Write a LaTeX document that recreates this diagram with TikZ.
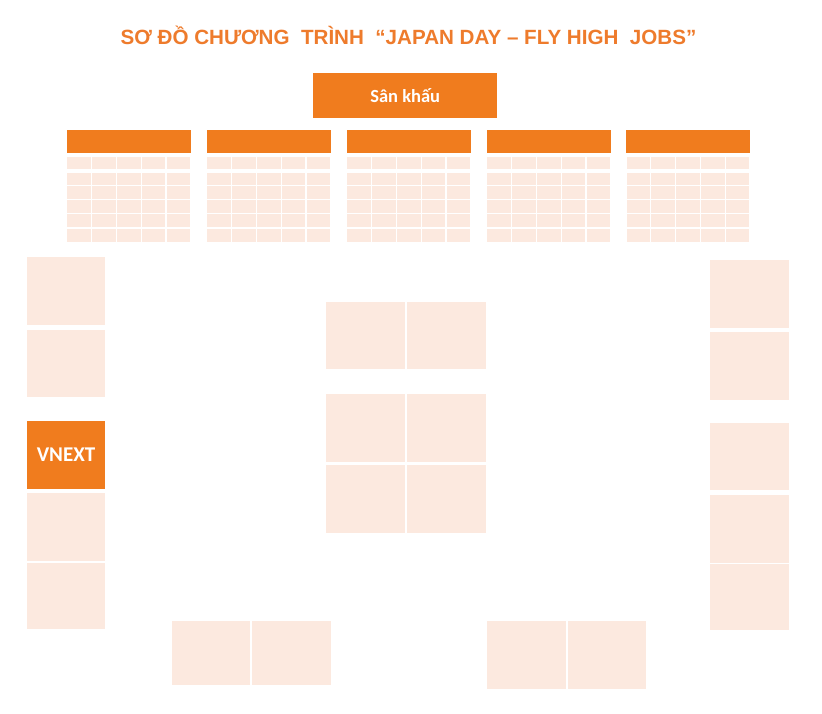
\documentclass[tikz,border=0pt]{standalone}
\usepackage{fontspec}
\setmainfont{Liberation Sans}
\newfontfamily\calib{Carlito}
\definecolor{orng}{HTML}{F07C1E}
\definecolor{peach}{HTML}{FCE9DF}
\definecolor{ttl}{HTML}{EE7B2C}
\begin{document}
\begin{tikzpicture}[x=1pt,y=-1pt,
  hdr/.style={fill=orng,draw=none,inner sep=0pt,anchor=north west},
  pbox/.style={fill=peach,draw=none,inner sep=0pt,anchor=north west},
  obox/.style={fill=orng,draw=none,inner sep=0pt,anchor=north west,text=white,font=\calib\bfseries}]
\useasboundingbox (0,0) rectangle (822,714);
\fill[white] (0,0) rectangle (822,714);
% title
\node[text=ttl,font=\bfseries\fontsize{20.6}{24}\selectfont] (title) at (408.5,35) {SƠ ĐỒ CHƯƠNG\ \ TRÌNH\ \ “JAPAN DAY – FLY HIGH\ \ JOBS”};
% stage
\node[obox,minimum width=184pt,minimum height=45pt,font=\calib\bfseries\fontsize{18.5}{22}\selectfont] (stage) at (313,73) {Sân khấu};
% tables
\foreach \tx [count=\t] in {66.7,206.7,346.7,486.7,626}{
  \node[hdr,minimum width=124pt,minimum height=23pt] (th\t) at (\tx,130) {};
  \foreach \ya/\yb in {156.7/169.3,172.7/185.3,186.3/199.3,200.3/213.3,214.3/227.3,228.7/242}{
    \foreach \i in {0,...,4}{
      \fill[peach] ({\tx+\i*24.8+0.6},\ya) rectangle ({\tx+(\i+1)*24.8-0.6},\yb);
    }
  }
}
% left column
\node[pbox,minimum width=78.3pt,minimum height=68pt] (l1) at (26.7,257) {};
\node[pbox,minimum width=78.3pt,minimum height=66.7pt] (l2) at (26.7,330) {};
\node[obox,minimum width=78.3pt,minimum height=67.6pt,font=\calib\bfseries\fontsize{21}{24}\selectfont] (vnext) at (26.7,420.7) {VNEXT};
\node[pbox,minimum width=78.3pt,minimum height=67.7pt] (l4) at (26.7,493) {};
\node[pbox,minimum width=78.3pt,minimum height=65.6pt] (l5) at (26.7,562.7) {};
% right column
\node[pbox,minimum width=79pt,minimum height=68pt] (r1) at (709.3,259.3) {};
\node[pbox,minimum width=79pt,minimum height=67.6pt] (r2) at (709.3,331.7) {};
\node[pbox,minimum width=79pt,minimum height=67.3pt] (r3) at (709.3,422.7) {};
\node[pbox,minimum width=79pt,minimum height=67.7pt] (r4) at (709.3,495) {};
\node[pbox,minimum width=79pt,minimum height=66pt] (r5) at (709.3,564) {};
% center
\node[pbox,minimum width=78.3pt,minimum height=67.3pt] (c1) at (326,301.7) {};
\node[pbox,minimum width=78.6pt,minimum height=67.3pt] (c2) at (406.7,301.7) {};
\node[pbox,minimum width=78.3pt,minimum height=67.7pt] (c3) at (326,394) {};
\node[pbox,minimum width=78.6pt,minimum height=67.7pt] (c4) at (406.7,394) {};
\node[pbox,minimum width=78.3pt,minimum height=67.7pt] (c5) at (326,465) {};
\node[pbox,minimum width=78.6pt,minimum height=67.7pt] (c6) at (406.7,465) {};
% bottom
\node[pbox,minimum width=78.3pt,minimum height=64.3pt] (b1) at (171.7,620.7) {};
\node[pbox,minimum width=78.7pt,minimum height=64.3pt] (b2) at (252,620.7) {};
\node[pbox,minimum width=79pt,minimum height=68.3pt] (b3) at (486.7,620.7) {};
\node[pbox,minimum width=78.4pt,minimum height=68.3pt] (b4) at (567.3,620.7) {};
\end{tikzpicture}
\end{document}
